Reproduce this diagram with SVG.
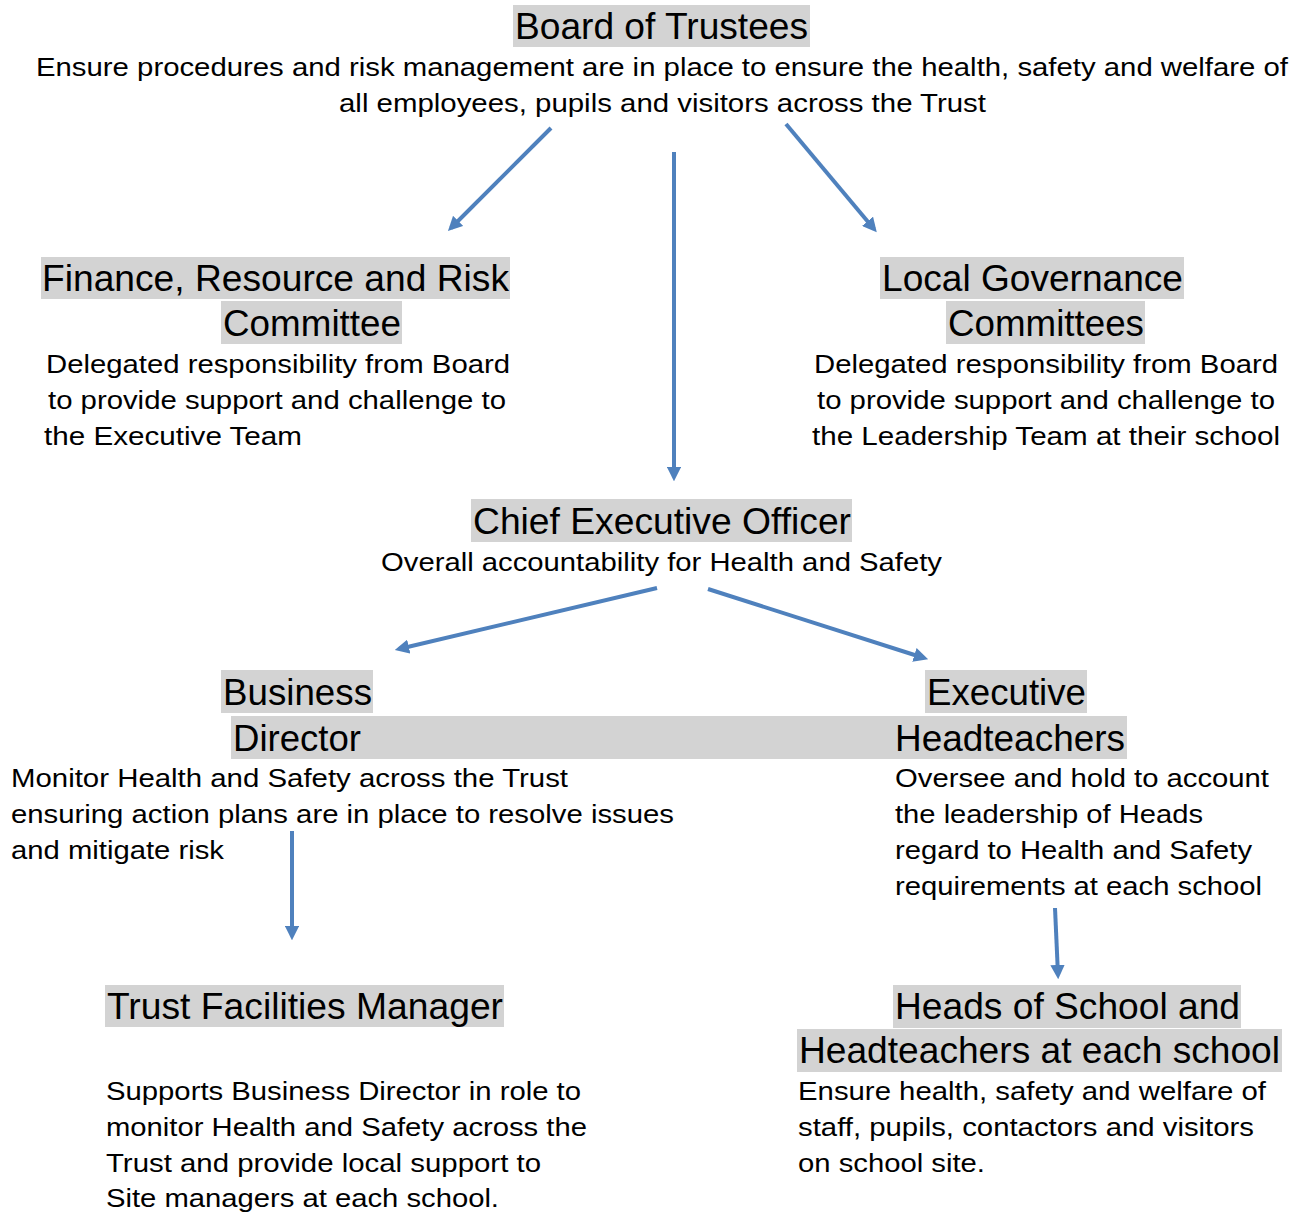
<svg xmlns="http://www.w3.org/2000/svg" width="1298" height="1212" viewBox="0 0 1298 1212">
<defs>
<style>
.h{font-family:"Liberation Sans",Arial,sans-serif;font-size:36px;fill:#000}
.b{font-family:"Liberation Sans",Arial,sans-serif;font-size:26px;fill:#000}
.hl{fill:#D3D3D3}
.c{stroke:#4F81BD;stroke-width:4;fill:none;marker-end:url(#ah)}
</style>
<marker id="ah" viewBox="0 0 10 10" refX="7" refY="5" markerWidth="3.6" markerHeight="3.6" orient="auto" markerUnits="strokeWidth">
<path d="M0,0 L10,5 L0,10 z" fill="#4F81BD"/>
</marker>
</defs>
<rect width="1298" height="1212" fill="#fff"/>

<g id="board">
<rect class="hl" x="513" y="5" width="297" height="42"/>
<text class="h" x="515" y="39" textLength="293" lengthAdjust="spacingAndGlyphs">Board of Trustees</text>
<text class="b" x="36" y="76" textLength="1252" lengthAdjust="spacingAndGlyphs">Ensure procedures and risk management are in place to ensure the health, safety and welfare of</text>
<text class="b" x="339" y="112" textLength="647" lengthAdjust="spacingAndGlyphs">all employees, pupils and visitors across the Trust</text>
</g>

<g id="finance">
<rect class="hl" x="41" y="257" width="469" height="42"/>
<rect class="hl" x="221" y="301" width="181" height="43"/>
<text class="h" x="42" y="291" textLength="467" lengthAdjust="spacingAndGlyphs">Finance, Resource and Risk</text>
<text class="h" x="223" y="336" textLength="178" lengthAdjust="spacingAndGlyphs">Committee</text>
<text class="b" x="46" y="373" textLength="464" lengthAdjust="spacingAndGlyphs">Delegated responsibility from Board</text>
<text class="b" x="48" y="409" textLength="458" lengthAdjust="spacingAndGlyphs">to provide support and challenge to</text>
<text class="b" x="44" y="445" textLength="258" lengthAdjust="spacingAndGlyphs">the Executive Team</text>
</g>

<g id="local">
<rect class="hl" x="880" y="257" width="304" height="42"/>
<rect class="hl" x="946" y="301" width="199" height="43"/>
<text class="h" x="882" y="291" textLength="301" lengthAdjust="spacingAndGlyphs">Local Governance</text>
<text class="h" x="948" y="336" textLength="196" lengthAdjust="spacingAndGlyphs">Committees</text>
<text class="b" x="814" y="373" textLength="464" lengthAdjust="spacingAndGlyphs">Delegated responsibility from Board</text>
<text class="b" x="817" y="409" textLength="458" lengthAdjust="spacingAndGlyphs">to provide support and challenge to</text>
<text class="b" x="812" y="445" textLength="468" lengthAdjust="spacingAndGlyphs">the Leadership Team at their school</text>
</g>

<g id="ceo">
<rect class="hl" x="471" y="499" width="381" height="43"/>
<text class="h" x="473" y="534" textLength="378" lengthAdjust="spacingAndGlyphs">Chief Executive Officer</text>
<text class="b" x="381" y="571" textLength="561" lengthAdjust="spacingAndGlyphs">Overall accountability for Health and Safety</text>
</g>

<rect class="hl" x="231" y="716" width="896" height="43"/>

<g id="business">
<rect class="hl" x="221" y="670" width="152" height="43"/>
<text class="h" x="223" y="705" textLength="149" lengthAdjust="spacingAndGlyphs">Business</text>
<text class="h" x="233" y="751" textLength="128" lengthAdjust="spacingAndGlyphs">Director</text>
<text class="b" x="11" y="787" textLength="557" lengthAdjust="spacingAndGlyphs">Monitor Health and Safety across the Trust</text>
<text class="b" x="11" y="823" textLength="663" lengthAdjust="spacingAndGlyphs">ensuring action plans are in place to resolve issues</text>
<text class="b" x="11" y="859" textLength="213" lengthAdjust="spacingAndGlyphs">and mitigate risk</text>
</g>

<g id="executive">
<rect class="hl" x="925" y="670" width="162" height="43"/>
<text class="h" x="927" y="705" textLength="159" lengthAdjust="spacingAndGlyphs">Executive</text>
<text class="h" x="895" y="751" textLength="230" lengthAdjust="spacingAndGlyphs">Headteachers</text>
<text class="b" x="895" y="787" textLength="374" lengthAdjust="spacingAndGlyphs">Oversee and hold to account</text>
<text class="b" x="895" y="823" textLength="308" lengthAdjust="spacingAndGlyphs">the leadership of Heads</text>
<text class="b" x="895" y="859" textLength="357" lengthAdjust="spacingAndGlyphs">regard to Health and Safety</text>
<text class="b" x="895" y="895" textLength="367" lengthAdjust="spacingAndGlyphs">requirements at each school</text>
</g>

<g id="facilities">
<rect class="hl" x="105" y="985" width="399" height="42"/>
<text class="h" x="107" y="1019" textLength="396" lengthAdjust="spacingAndGlyphs">Trust Facilities Manager</text>
<text class="b" x="106" y="1100" textLength="475" lengthAdjust="spacingAndGlyphs">Supports Business Director in role to</text>
<text class="b" x="106" y="1136" textLength="481" lengthAdjust="spacingAndGlyphs">monitor Health and Safety across the</text>
<text class="b" x="106" y="1172" textLength="435" lengthAdjust="spacingAndGlyphs">Trust and provide local support to</text>
<text class="b" x="106" y="1207" textLength="393" lengthAdjust="spacingAndGlyphs">Site managers at each school.</text>
</g>

<g id="heads">
<rect class="hl" x="893" y="985" width="348" height="43"/>
<rect class="hl" x="797" y="1029" width="485" height="43"/>
<text class="h" x="895" y="1019" textLength="345" lengthAdjust="spacingAndGlyphs">Heads of School and</text>
<text class="h" x="799" y="1063" textLength="481" lengthAdjust="spacingAndGlyphs">Headteachers at each school</text>
<text class="b" x="798" y="1100" textLength="468" lengthAdjust="spacingAndGlyphs">Ensure health, safety and welfare of</text>
<text class="b" x="798" y="1136" textLength="456" lengthAdjust="spacingAndGlyphs">staff, pupils, contactors and visitors</text>
<text class="b" x="798" y="1172" textLength="187" lengthAdjust="spacingAndGlyphs">on school site.</text>
</g>

<g id="connectors">
<line class="c" x1="551" y1="128" x2="451" y2="228"/>
<line class="c" x1="674" y1="152" x2="674" y2="477"/>
<line class="c" x1="786" y1="124" x2="874" y2="229"/>
<line class="c" x1="657" y1="588" x2="399" y2="649"/>
<line class="c" x1="708" y1="589" x2="924" y2="658"/>
<line class="c" x1="292" y1="831" x2="292" y2="936"/>
<line class="c" x1="1055" y1="908" x2="1058" y2="975"/>
</g>
</svg>
